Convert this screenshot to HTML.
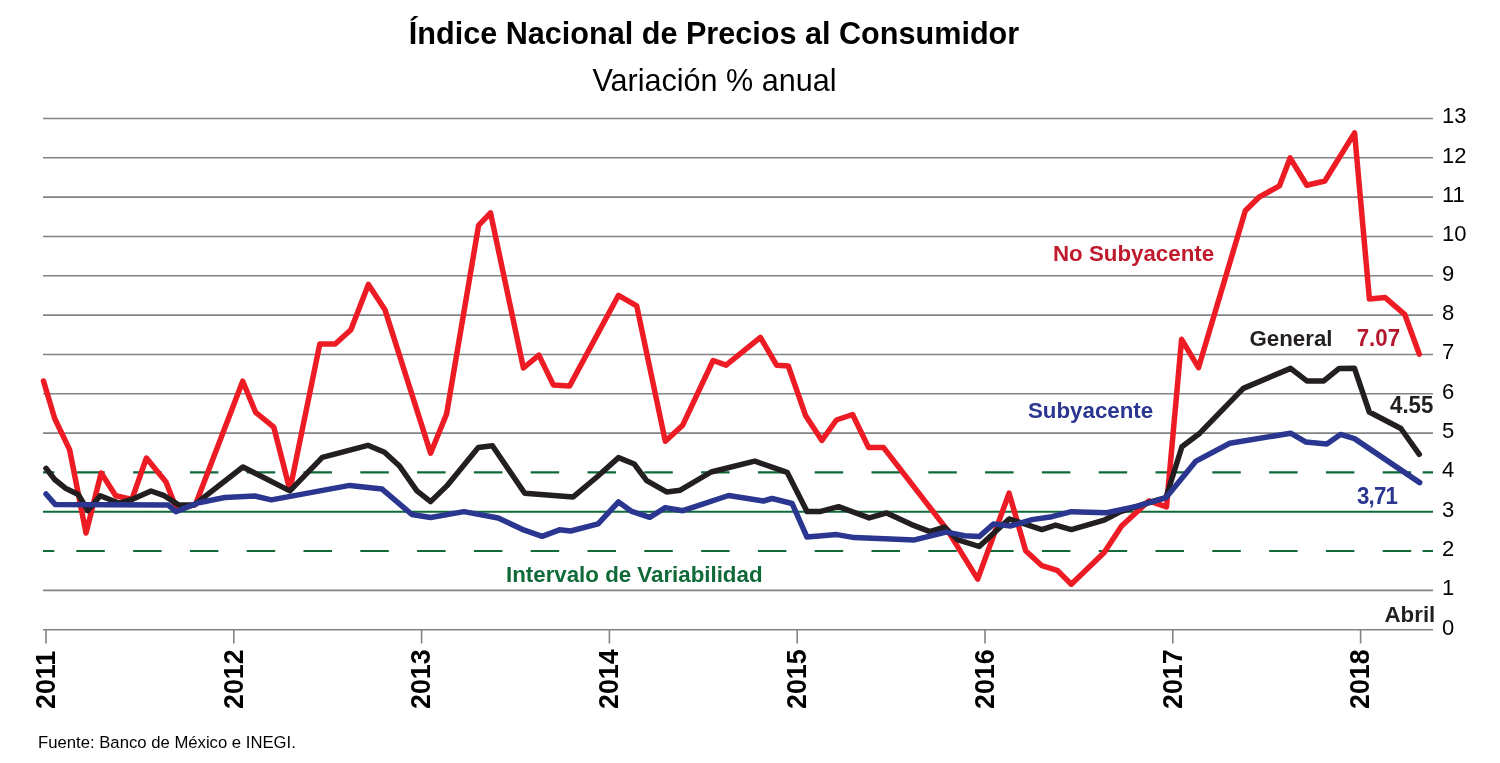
<!DOCTYPE html>
<html><head><meta charset="utf-8"><title>INPC</title>
<style>
html,body{margin:0;padding:0;background:#fff;}
body{width:1500px;height:763px;position:relative;overflow:hidden;font-family:"Liberation Sans",sans-serif;color:#000;}
#t1{position:absolute;left:-0.5px;width:1429px;top:14.5px;text-align:center;font-weight:bold;font-size:30.6px;line-height:36px;white-space:nowrap;}
#t2{position:absolute;left:0;width:1429px;top:62px;text-align:center;font-size:30.55px;line-height:36px;white-space:nowrap;}
svg{position:absolute;left:0;top:0;}
#txt{position:absolute;left:0;top:0;width:1500px;height:763px;will-change:transform;opacity:0.999;}
.yl{position:absolute;left:1442px;width:50px;font-size:22px;line-height:26px;height:26px;white-space:nowrap;transform:scaleY(1.04);transform-origin:0 20.62px;}
.yr{position:absolute;top:709.2px;width:0;height:0;font-weight:bold;font-size:26.1px;line-height:0;white-space:nowrap;transform-origin:0 0;transform:rotate(-90deg) scale(1.028,1.08);}
.yr{}
.lb{position:absolute;font-weight:bold;font-size:22.3px;line-height:24px;white-space:nowrap;}
.num{transform:scaleY(1.04);transform-origin:0 19.73px;}
#src{position:absolute;left:38px;top:735px;font-size:16.7px;line-height:16px;white-space:nowrap;}
</style></head><body>
<div id="txt">
<div id="t1">Índice Nacional de Precios al Consumidor</div>
<div id="t2">Variación % anual</div>
<svg width="1500" height="763" viewBox="0 0 1500 763">
<g stroke="#828385" stroke-width="1.6" fill="none">
<line x1="43" x2="1433" y1="629.70" y2="629.70"/>
<line x1="43" x2="1433" y1="590.38" y2="590.38"/>
<line x1="43" x2="1433" y1="433.09" y2="433.09"/>
<line x1="43" x2="1433" y1="393.76" y2="393.76"/>
<line x1="43" x2="1433" y1="354.44" y2="354.44"/>
<line x1="43" x2="1433" y1="315.12" y2="315.12"/>
<line x1="43" x2="1433" y1="275.79" y2="275.79"/>
<line x1="43" x2="1433" y1="236.47" y2="236.47"/>
<line x1="43" x2="1433" y1="197.15" y2="197.15"/>
<line x1="43" x2="1433" y1="157.82" y2="157.82"/>
<line x1="43" x2="1433" y1="118.50" y2="118.50"/>
<line x1="46.0" x2="46.0" y1="629.7" y2="643.5"/>
<line x1="233.8" x2="233.8" y1="629.7" y2="643.5"/>
<line x1="421.6" x2="421.6" y1="629.7" y2="643.5"/>
<line x1="609.4" x2="609.4" y1="629.7" y2="643.5"/>
<line x1="797.2" x2="797.2" y1="629.7" y2="643.5"/>
<line x1="985.0" x2="985.0" y1="629.7" y2="643.5"/>
<line x1="1172.8" x2="1172.8" y1="629.7" y2="643.5"/>
<line x1="1360.6" x2="1360.6" y1="629.7" y2="643.5"/>
</g>
<g stroke="#0f6a38" stroke-width="2.1" fill="none">
<line x1="43" x2="1433" y1="511.73" y2="511.73"/>
<path d="M43.0,472.41H54.3M76.3,472.41H104.8M133.1,472.41H161.6M189.9,472.41H218.4M246.7,472.41H275.2M303.5,472.41H332.0M360.3,472.41H388.8M417.1,472.41H445.6M473.9,472.41H502.4M530.7,472.41H559.2M587.5,472.41H616.0M644.3,472.41H672.8M701.1,472.41H729.6M757.9,472.41H786.4M814.7,472.41H843.2M871.5,472.41H900.0M928.3,472.41H956.8M985.1,472.41H1013.6M1041.9,472.41H1070.4M1098.7,472.41H1127.2M1155.5,472.41H1184.0M1212.3,472.41H1240.8M1269.1,472.41H1297.6M1325.9,472.41H1354.4M1382.7,472.41H1411.2M1422.6,472.41H1433.0"/><path d="M43.0,551.05H54.3M76.3,551.05H104.8M133.1,551.05H161.6M189.9,551.05H218.4M246.7,551.05H275.2M303.5,551.05H332.0M360.3,551.05H388.8M417.1,551.05H445.6M473.9,551.05H502.4M530.7,551.05H559.2M587.5,551.05H616.0M644.3,551.05H672.8M701.1,551.05H729.6M757.9,551.05H786.4M814.7,551.05H843.2M871.5,551.05H900.0M928.3,551.05H956.8M985.1,551.05H1013.6M1041.9,551.05H1070.4M1098.7,551.05H1127.2M1155.5,551.05H1184.0M1212.3,551.05H1240.8M1269.1,551.05H1297.6M1325.9,551.05H1354.4M1382.7,551.05H1411.2M1422.6,551.05H1433.0"/>
</g>
<g fill="none" stroke-width="5.5" stroke-linejoin="round" stroke-linecap="round">
<path stroke="#ed1c24" d="M43.5,381.0 L54.7,418.5 L69.6,449.6 L86.0,533.0 L101.2,473.0 L115.7,495.7 L131.9,499.4 L146.4,458.0 L166.0,481.9 L176.5,509.0 L195.5,504.5 L242.7,381.2 L255.6,412.3 L273.8,427.2 L289.9,490.0 L319.8,344.0 L335.2,344.0 L350.9,329.8 L368.4,284.4 L385.0,309.8 L430.6,453.2 L446.6,414.0 L478.6,225.4 L490.5,212.8 L523.4,368.0 L538.9,355.1 L553.3,384.9 L569.5,386.1 L618.5,295.3 L636.7,305.8 L665.3,441.3 L682.7,425.2 L713.1,360.5 L726.1,365.2 L760.4,337.4 L776.6,365.2 L788.3,366.0 L805.7,415.8 L821.9,440.4 L836.4,420.0 L852.6,414.5 L868.5,447.4 L883.4,447.4 L946.9,529.4 L977.7,579.1 L1009.1,493.2 L1025.7,550.8 L1041.9,565.7 L1057.2,570.3 L1071.3,584.2 L1104.2,552.5 L1121.6,525.9 L1148.8,500.9 L1166.5,506.8 L1181.6,339.3 L1198.5,367.7 L1245.3,210.8 L1259.0,197.2 L1279.4,185.9 L1290.1,157.9 L1306.8,185.2 L1324.8,181.0 L1354.6,132.9 L1369.4,299.0 L1385.2,297.6 L1404.9,314.7 L1419.3,354.1"/>
<path stroke="#231f20" d="M46.0,468.3 L54.7,479.5 L65.4,488.2 L78.3,494.5 L87.8,510.6 L100.2,495.7 L119.4,503.2 L131.9,499.4 L151.0,491.0 L163.5,495.3 L178.5,504.9 L194.2,504.9 L242.9,467.0 L289.9,490.9 L322.3,457.3 L367.9,445.3 L384.5,452.3 L399.5,466.0 L416.9,490.9 L430.6,501.6 L446.8,485.9 L478.3,447.5 L492.4,445.8 L524.7,493.2 L573.2,496.9 L596.9,477.0 L618.5,457.6 L634.2,464.0 L646.7,480.7 L666.6,491.9 L680.3,490.2 L711.1,472.0 L754.7,461.2 L787.1,472.3 L807.0,511.4 L820.7,511.4 L838.6,506.7 L869.2,517.9 L886.7,512.9 L911.6,524.6 L929.9,531.6 L944.3,527.1 L957.3,539.6 L979.2,546.5 L1009.1,518.9 L1041.9,529.6 L1055.6,525.1 L1071.3,529.6 L1104.2,520.1 L1119.1,512.2 L1150.0,502.2 L1165.9,497.7 L1181.9,446.8 L1199.8,433.2 L1243.3,388.4 L1290.6,368.4 L1306.8,380.9 L1323.8,380.9 L1339.2,368.4 L1354.5,368.3 L1369.3,412.0 L1400.9,428.5 L1419.3,454.3"/>
<path stroke="#2a368f" d="M46.0,494.0 L55.4,504.6 L168.0,504.9 L175.9,511.6 L198.6,502.7 L224.8,497.5 L254.8,496.0 L271.3,499.9 L349.7,485.4 L382.1,489.1 L411.9,514.5 L430.6,517.5 L464.0,511.6 L498.2,518.0 L522.2,529.3 L542.1,536.3 L559.5,529.8 L570.7,531.0 L598.1,523.8 L618.5,501.9 L631.7,511.4 L649.7,517.3 L665.3,507.6 L682.8,510.7 L728.6,495.5 L763.4,501.0 L772.1,498.5 L792.1,503.5 L807.0,537.1 L836.9,534.6 L854.3,537.6 L914.5,539.9 L946.1,532.1 L964.7,535.8 L979.2,536.6 L993.4,524.1 L1010.8,525.9 L1032.0,519.6 L1051.9,516.7 L1071.3,511.7 L1106.7,512.7 L1139.0,505.9 L1165.9,497.7 L1196.0,461.1 L1229.8,443.2 L1290.6,433.2 L1305.6,441.9 L1326.8,443.9 L1340.4,434.4 L1354.5,438.6 L1419.7,482.6"/>
</g>
</svg>
<div class="yl" style="top:614.5px">0</div>
<div class="yl" style="top:575.2px">1</div>
<div class="yl" style="top:535.9px">2</div>
<div class="yl" style="top:496.5px">3</div>
<div class="yl" style="top:457.2px">4</div>
<div class="yl" style="top:417.9px">5</div>
<div class="yl" style="top:378.6px">6</div>
<div class="yl" style="top:339.2px">7</div>
<div class="yl" style="top:299.9px">8</div>
<div class="yl" style="top:260.6px">9</div>
<div class="yl" style="top:221.3px">10</div>
<div class="yl" style="top:181.9px">11</div>
<div class="yl" style="top:142.6px">12</div>
<div class="yl" style="top:103.3px">13</div>
<div class="yr" style="left:44.8px">2011</div>
<div class="yr" style="left:232.6px">2012</div>
<div class="yr" style="left:420.4px">2013</div>
<div class="yr" style="left:608.2px">2014</div>
<div class="yr" style="left:796.0px">2015</div>
<div class="yr" style="left:983.8px">2016</div>
<div class="yr" style="left:1171.6px">2017</div>
<div class="yr" style="left:1359.4px">2018</div>

<div class="lb" style="left:1053px;top:242px;color:#c01a2e">No Subyacente</div>
<div class="lb" style="left:1249.5px;top:327px;color:#231f20">General</div>
<div class="lb num" style="left:1356.7px;top:327px;color:#b5172f">7.07</div>
<div class="lb num" style="left:1390px;top:393.7px;color:#231f20">4.55</div>
<div class="lb" style="left:1028px;top:399px;color:#2a368f">Subyacente</div>
<div class="lb num" style="left:1357px;top:484.7px;color:#2a368f;letter-spacing:-0.8px">3,71</div>
<div class="lb" style="left:506px;top:563px;color:#0f6a38">Intervalo de Variabilidad</div>
<div class="lb" style="left:1384.5px;top:603px;color:#231f20">Abril</div>
<div id="src">Fuente: Banco de México e INEGI.</div>
</div>
</body></html>
